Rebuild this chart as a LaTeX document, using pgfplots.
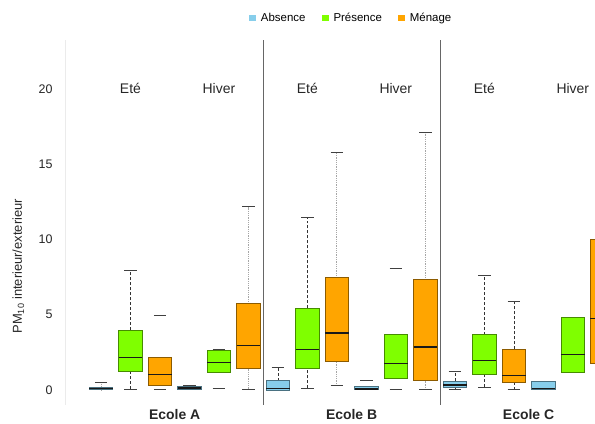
\documentclass[border=0pt]{standalone}
\usepackage{pgfplots}
\pgfplotsset{compat=1.18}
\usepgfplotslibrary{statistics}
\usepackage{fontspec}
\setmainfont{Liberation Sans}
\definecolor{cabs}{RGB}{135,206,235}
\definecolor{cpre}{RGB}{127,255,0}
\definecolor{cmen}{RGB}{255,165,0}
\tikzset{
  wdark/.style={black!80, densely dashed, line width=0.6pt, fill=none},
  wlight/.style={black!35, densely dotted, line width=0.8pt, fill=none},
  wnone/.style={draw=none, fill=none},
}
\pgfplotsset{
  boxplot/draw direction=y,
  boxplot/draw/lower whisker/.code={%
    \draw[/pgfplots/boxplot/every whisker/.try]
      (boxplot box cs:\pgfplotsboxplotvalue{lower whisker},0.5) --
      (boxplot box cs:\pgfplotsboxplotvalue{lower quartile},0.5);
    \draw[black!75, solid, line width=0.8pt, fill=none]
      (boxplot whisker cs:\pgfplotsboxplotvalue{lower whisker},0) --
      (boxplot whisker cs:\pgfplotsboxplotvalue{lower whisker},1);
  },
  boxplot/draw/upper whisker/.code={%
    \draw[/pgfplots/boxplot/every whisker/.try]
      (boxplot box cs:\pgfplotsboxplotvalue{upper quartile},0.5) --
      (boxplot box cs:\pgfplotsboxplotvalue{upper whisker},0.5);
    \draw[black!75, solid, line width=0.8pt, fill=none]
      (boxplot whisker cs:\pgfplotsboxplotvalue{upper whisker},0) --
      (boxplot whisker cs:\pgfplotsboxplotvalue{upper whisker},1);
  },
}
% position, colour, lower whisker, q1, median, q3, upper whisker, whisker style
\newcommand{\bx}[8]{%
  \addplot[boxplot prepared={draw position=#1, lower whisker=#3,
      lower quartile=#4, median=#5, upper quartile=#6, upper whisker=#7,
      box extend=0.8, whisker extend=0.42},
    fill=#2, draw=#2!55!black, line width=0.6pt,
    boxplot/every whisker/.style={#8},
    boxplot/every median/.style={black!90, line width=1.3pt, fill=none},
    forget plot] coordinates {};}
\begin{document}
\begin{tikzpicture}
\begin{axis}[
  scale only axis,
  width=530bp, height=365bp,
  xmin=-1.22, xmax=16.75,
  ymin=-1, ymax=23.25,
  clip=true,
  axis line style={draw=none},
  ytick={0,5,10,15,20},
  xtick={2.5,8.5,14.5},
  xticklabels={Ecole A, Ecole B, Ecole C},
  major tick length=0pt,
  yticklabel shift=9bp,
  xticklabel shift=1bp,
  /pgf/number format/assume math mode=true,
  yticklabel style={font=\fontsize{12.5}{14}\selectfont, text=black!85},
  xticklabel style={font=\fontsize{14}{16}\selectfont\bfseries, text=black!85},
  ylabel={PM\textsubscript{10} interieur/exterieur},
  ylabel style={at={(axis description cs:-0.088,0.38)}, anchor=center,
    font=\fontsize{13}{15}\selectfont, text=black!85},
  legend style={at={(axis description cs:0.54,1.06)}, anchor=center,
    draw=none, fill=none, font=\fontsize{11.5}{13}\selectfont,
    legend columns=3, /tikz/every even column/.append style={column sep=14bp},
    /tikz/every odd column/.append style={column sep=3bp}},
  legend image code/.code={\fill[#1] (0bp,-3.3bp) rectangle (7bp,3.3bp);},
]
\addlegendimage{fill=cabs, draw=none}
\addlegendentry{Absence}
\addlegendimage{fill=cpre, draw=none}
\addlegendentry{Présence}
\addlegendimage{fill=cmen, draw=none}
\addlegendentry{Ménage}

% separators
\addplot[black!60, line width=0.9pt, forget plot] coordinates {(5.5,-1) (5.5,23.25)};
\addplot[black!60, line width=0.9pt, forget plot] coordinates {(11.5,-1) (11.5,23.25)};
\addplot[black!8, line width=0.5pt, forget plot] coordinates {(-1.22,-1) (-1.22,23.25)};

% Ecole A
\bx{0}{cabs}{0}{0.02}{0.1}{0.2}{0.5}{wlight}
\bx{1}{cpre}{0.05}{1.22}{2.17}{3.97}{7.97}{wdark}
\bx{2}{cmen}{0.05}{0.33}{1.0}{2.17}{4.96}{wnone}
\bx{3}{cabs}{0.05}{0.05}{0.13}{0.27}{0.27}{wnone}
\bx{4}{cpre}{0.09}{1.17}{1.82}{2.66}{2.66}{wnone}
\bx{5}{cmen}{0.05}{1.44}{2.95}{5.74}{12.18}{wlight}
% Ecole B
\bx{6}{cabs}{0}{0.0}{0.09}{0.62}{1.48}{wdark}
\bx{7}{cpre}{0.11}{1.44}{2.66}{5.43}{11.45}{wdark}
\bx{8}{cmen}{0.27}{1.93}{3.77}{7.46}{15.77}{wlight}
\bx{9}{cabs}{0}{0.02}{0.06}{0.27}{0.64}{wnone}
\bx{10}{cpre}{0}{0.78}{1.77}{3.72}{8.08}{wnone}
\bx{11}{cmen}{0}{0.62}{2.84}{7.33}{17.1}{wlight}
% Ecole C
\bx{12}{cabs}{0}{0.2}{0.33}{0.6}{1.26}{wdark}
\bx{13}{cpre}{0.18}{1.06}{1.95}{3.68}{7.6}{wdark}
\bx{14}{cmen}{0}{0.53}{0.95}{2.7}{5.91}{wdark}
\bx{15}{cabs}{0.07}{0.07}{0.1}{0.55}{0.55}{wnone}
\bx{16}{cpre}{1.17}{1.17}{2.35}{4.83}{4.83}{wnone}
\bx{17}{cmen}{1.77}{1.77}{4.76}{10.0}{10.0}{wnone}

\node[font=\fontsize{14}{16}\selectfont, text=black!85] at (axis cs:1,20) {Eté};
\node[font=\fontsize{14}{16}\selectfont, text=black!85] at (axis cs:4,20) {Hiver};
\node[font=\fontsize{14}{16}\selectfont, text=black!85] at (axis cs:7,20) {Eté};
\node[font=\fontsize{14}{16}\selectfont, text=black!85] at (axis cs:10,20) {Hiver};
\node[font=\fontsize{14}{16}\selectfont, text=black!85] at (axis cs:13,20) {Eté};
\node[font=\fontsize{14}{16}\selectfont, text=black!85] at (axis cs:16,20) {Hiver};
\end{axis}
\path ([shift={(-65bp,-18bp)}]current axis.south west) rectangle ([shift={(0bp,40bp)}]current axis.north east);
\end{tikzpicture}
\end{document}
